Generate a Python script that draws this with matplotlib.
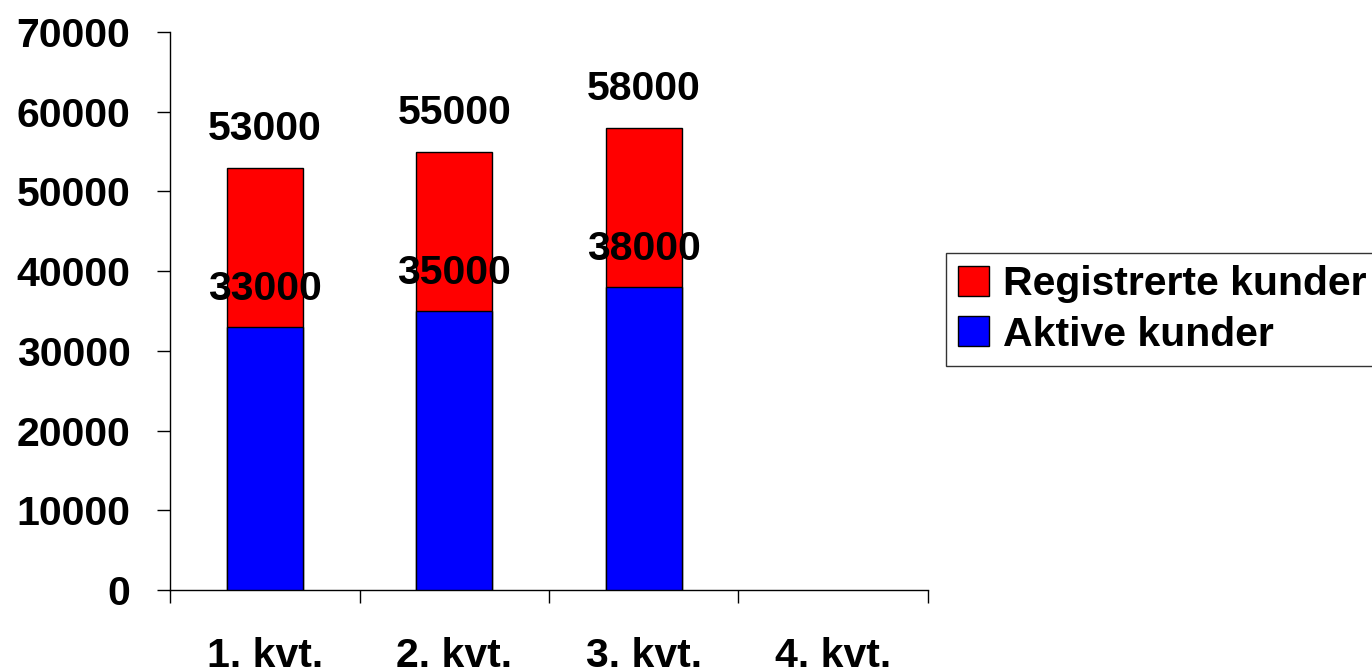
import matplotlib.pyplot as plt
from matplotlib.patches import Patch

plt.rcParams['font.family'] = ['Liberation Sans', 'DejaVu Sans']
plt.rcParams['font.weight'] = 'bold'

kvartaler = ['1. kvt.', '2. kvt.', '3. kvt.', '4. kvt.']
registrerte = [53000, 55000, 58000]
aktive = [33000, 35000, 38000]
yticks = [0, 10000, 20000, 30000, 40000, 50000, 60000, 70000]

fs = 29.5
fig = plt.figure(figsize=(13.72, 6.71), dpi=100)
ax = fig.add_axes([170 / 1372, 1 - 590 / 671, 758 / 1372, 558 / 671])

pos = [i + 0.5 for i in range(len(registrerte))]
ax.bar(pos, registrerte, width=0.4, color='#ff0000', edgecolor='black', linewidth=1, zorder=2)
ax.bar(pos, aktive, width=0.4, color='#0000ff', edgecolor='black', linewidth=1, zorder=3)

# value labels above each bar top
for x, r, a in zip(pos, registrerte, aktive):
    for v in (r, a):
        ax.annotate(str(v), (x, v), xytext=(0, 27.5), textcoords='offset points',
                    ha='center', va='center', fontsize=fs, fontweight='bold', zorder=5)

ax.set_xlim(0, 4)
ax.set_ylim(0, 70000)
ax.set_yticks(yticks)
ax.set_yticklabels([str(t) for t in yticks])
ax.set_xticks(range(5))
ax.set_xticklabels([])
ax.set_xticks([i + 0.5 for i in range(4)], minor=True)
ax.set_xticklabels(kvartaler, minor=True)
ax.tick_params(axis='x', which='major', direction='out', length=9.5, width=1)
ax.tick_params(axis='x', which='minor', length=0, pad=34, labelsize=fs)
ax.tick_params(axis='y', direction='out', length=9.5, width=1, pad=19, labelsize=fs)
for lbl in ax.get_xticklabels(minor=True) + ax.get_yticklabels():
    lbl.set_fontweight('bold')
for s in ['top', 'right']:
    ax.spines[s].set_visible(False)
for s in ['left', 'bottom']:
    ax.spines[s].set_linewidth(1)

handles = [Patch(facecolor='#ff0000', edgecolor='black'),
           Patch(facecolor='#0000ff', edgecolor='black')]
leg = fig.legend(handles, ['Registrerte kunder', 'Aktive kunder'],
                 loc='upper left', bbox_to_anchor=(946 / 1372, 1 - 253 / 671),
                 prop={'weight': 'bold', 'size': fs},
                 frameon=True, fancybox=False, edgecolor='black',
                 handlelength=0.75, handleheight=0.75, handletextpad=0.35,
                 labelspacing=0.3, borderpad=0.3, borderaxespad=0)
leg.get_frame().set_linewidth(1)

fig.savefig('out.png', dpi=100)
